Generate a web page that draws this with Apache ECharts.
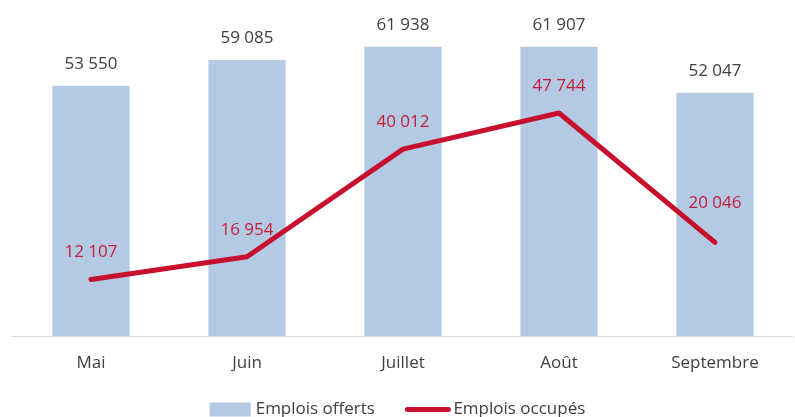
<!DOCTYPE html>
<html><head><meta charset="utf-8">
<script src="https://cdn.jsdelivr.net/npm/echarts@6/dist/echarts.min.js"></script>
<style>html,body{margin:0;padding:0;background:#fff}#c{width:795px;height:417px}</style>
</head><body><div id="c"></div>
<script>
const categories = ['Mai', 'Juin', 'Juillet', 'Août', 'Septembre'];
const offerts = [53550, 59085, 61938, 61907, 52047];
const occupes = [12107, 16954, 40012, 47744, 20046];
const occupesLabelDistance = [18, 18, 18, 18, 30];

const fmt = v => String(v).replace(/\B(?=(\d{3})+(?!\d))/g, ' ');
const font = '"Open Sans", sans-serif';

const chart = echarts.init(document.getElementById('c'));
chart.setOption({
  animation: false,
  textStyle: { fontFamily: font },
  grid: { left: 13, right: 2, top: 9, bottom: 81 },
  legend: {
    bottom: -6, left: 'center',
    itemWidth: 41, itemHeight: 14, itemGap: 30,
    textStyle: { fontSize: 17, color: '#404040', fontFamily: font },
    data: [
      { name: 'Emplois offerts', icon: 'rect' },
      { name: 'Emplois occupés', lineStyle: { width: 5, cap: 'round' } }
    ]
  },
  xAxis: {
    type: 'category', data: categories,
    axisLine: { lineStyle: { color: '#d9d9d9', width: 1 } },
    axisTick: { show: false },
    axisLabel: { fontSize: 17, color: '#404040', margin: 19, fontFamily: font }
  },
  yAxis: { type: 'value', min: 0, max: 70000, show: false, splitLine: { show: false } },
  series: [
    {
      name: 'Emplois offerts', type: 'bar', data: offerts, barWidth: '49.5%',
      itemStyle: { color: '#b4c9e3' },
      label: { show: true, position: 'top', distance: 13, fontSize: 17, color: '#404040',
               fontFamily: font, formatter: p => fmt(p.value) }
    },
    {
      name: 'Emplois occupés', type: 'line', symbol: 'circle', symbolSize: 1, showSymbol: true,
      data: occupes.map((v, i) => ({ value: v, label: { distance: occupesLabelDistance[i] } })),
      lineStyle: { color: '#c8102e', width: 5, cap: 'round', join: 'round' },
      itemStyle: { color: 'rgba(0,0,0,0)' },
      label: { show: true, position: 'top', fontSize: 17, color: '#c41e3a',
               fontFamily: font, formatter: p => fmt(p.value) }
    }
  ]
});
</script></body></html>
